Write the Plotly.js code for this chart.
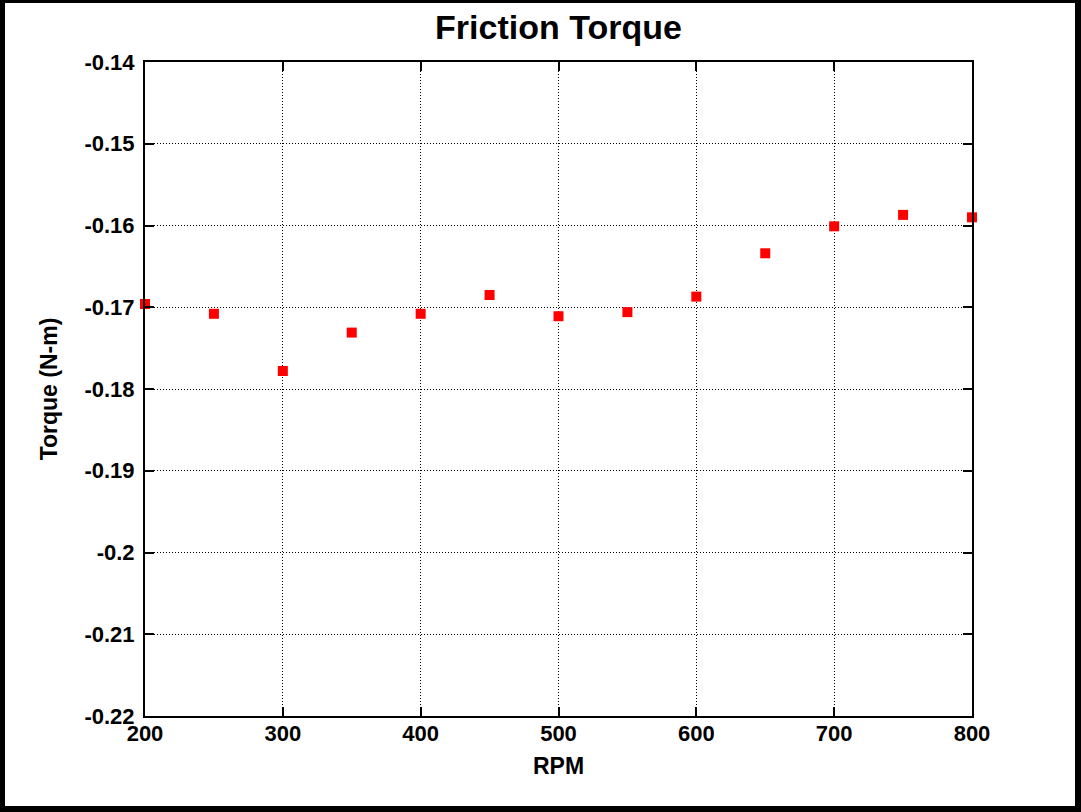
<!DOCTYPE html>
<html>
<head>
<meta charset="utf-8">
<script src="https://cdn.plot.ly/plotly-3.0.1.min.js"></script>
<style>
html,body{margin:0;padding:0;background:#fff;}
#wrap{position:absolute;left:0;top:0;width:1070px;height:803px;border-left:5px solid #000;border-top:3px solid #000;border-right:6px solid #000;border-bottom:6px solid #000;background:#fff;}
#chart{width:1070px;height:803px;}
</style>
</head>
<body>
<div id="wrap"><div id="chart"></div></div>
<script>
const rpm = [200, 250, 300, 350, 400, 450, 500, 550, 600, 650, 700, 750, 800];
const torque = [-0.1696, -0.1708, -0.1778, -0.1731, -0.1708, -0.1685, -0.1711, -0.1706, -0.1687, -0.1634, -0.1601, -0.1587, -0.1590];
const xTickVals = [200, 300, 400, 500, 600, 700, 800];
const xTickText = ["200", "300", "400", "500", "600", "700", "800"];
const yTickVals = [-0.22, -0.21, -0.20, -0.19, -0.18, -0.17, -0.16, -0.15, -0.14];
const yTickText = ["-0.22", "-0.21", "-0.2", "-0.19", "-0.18", "-0.17", "-0.16", "-0.15", "-0.14"];

const font = "Liberation Sans, Arial, Helvetica, sans-serif";

const trace = {
  x: rpm, y: torque, type: 'scatter', mode: 'markers',
  marker: {symbol: 'square', size: 10, color: '#ff0000', line: {width: 0}},
  cliponaxis: false, hoverinfo: 'skip'
};

const axisCommon = {
  showline: true, linecolor: '#000', linewidth: 2, mirror: 'ticks',
  ticks: 'inside', ticklen: 9, tickwidth: 2, tickcolor: '#000',
  showgrid: true, gridcolor: '#000', gridwidth: 1, griddash: '1px,2px',
  zeroline: false,
  tickfont: {family: font, size: 22, color: '#000', weight: 'bold'}
};

const layout = {
  width: 1070, height: 803,
  margin: {l: 140, r: 103, t: 59, b: 90},
  paper_bgcolor: '#fff', plot_bgcolor: '#fff',
  showlegend: false,
  title: {text: 'Friction Torque', xref: 'paper', x: 0.5, xanchor: 'center', yref: 'container', y: 0.970, yanchor: 'middle',
          font: {family: font, size: 34, color: '#000', weight: 'bold'}},
  xaxis: Object.assign({}, axisCommon, {
    range: [200, 800], tickmode: 'array', tickvals: xTickVals, ticktext: xTickText,
    ticklabelstandoff: -3,
    title: {text: 'RPM', standoff: 12, font: {family: font, size: 23, color: '#000', weight: 'bold'}}
  }),
  yaxis: Object.assign({}, axisCommon, {
    range: [-0.22, -0.14], tickmode: 'array', tickvals: yTickVals, ticktext: yTickText,
    ticklabelstandoff: 4,
    title: {text: 'Torque (N-m)', standoff: 20, font: {family: font, size: 23, color: '#000', weight: 'bold'}}
  })
};

Plotly.newPlot('chart', [trace], layout, {displayModeBar: false, staticPlot: true});
</script>
</body>
</html>
